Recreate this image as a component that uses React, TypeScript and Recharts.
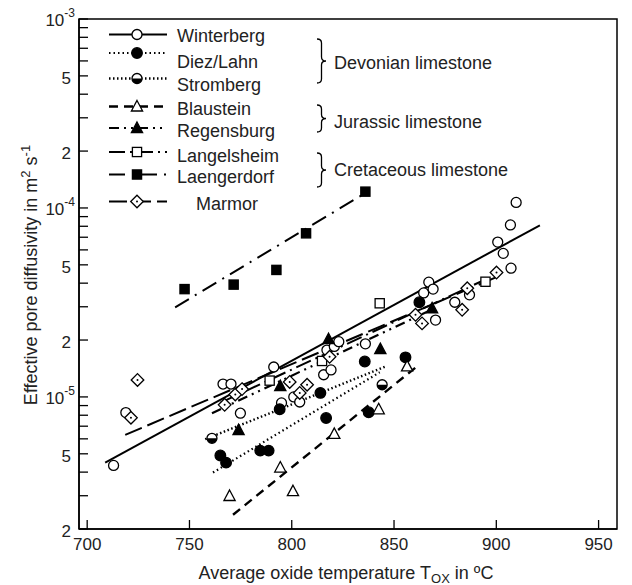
import React from "react";
import { ComposedChart, Line, Scatter, XAxis, YAxis } from "recharts";

// plot frame (px)
const LEFT = 79;
const RIGHT = 617;
const TOP = 19;
const BOTTOM = 529;
const FONT = "'Liberation Sans', Arial, sans-serif";

// measured points [T in °C, D in m2/s]
const winterberg = [
  [712.9, 4.34e-6], [718.9, 8.26e-6], [766.4, 1.17e-5], [770.3, 1.17e-5], [774.9, 8.2e-6],
  [791.2, 1.44e-5], [795.0, 9.3e-6], [801, 1.0e-5], [803.9, 9.4e-6], [815.6, 1.31e-5],
  [817.2, 1.77e-5], [819.2, 1.39e-5], [820.8, 1.85e-5], [823, 1.96e-5], [836, 1.91e-5],
  [864.5, 3.55e-5], [867, 4.05e-5], [869.1, 3.72e-5], [870.3, 2.55e-5], [879.7, 3.17e-5],
  [886.9, 3.47e-5], [900.7, 6.6e-5], [903.4, 5.75e-5], [906.9, 8.13e-5], [907.2, 4.8e-5],
  [909.7, 1.07e-4],
];
const diezLahn = [
  [765.1, 4.9e-6], [767.9, 4.49e-6], [784.6, 5.2e-6], [788.7, 5.2e-6], [794.1, 8.6e-6],
  [814, 1.05e-5], [816.8, 7.74e-6], [835.7, 1.54e-5], [837.6, 8.3e-6], [855.6, 1.62e-5],
  [862.4, 3.17e-5],
];
const stromberg = [[761, 6.04e-6], [844.2, 1.16e-5]];
const blaustein = [
  [769.6, 2.99e-6], [794.4, 4.23e-6], [800.6, 3.17e-6], [820.8, 6.37e-6], [842.5, 8.6e-6],
  [856.4, 1.45e-5],
];
const regensburg = [[774, 6.68e-6], [794.4, 1.14e-5], [818, 2.02e-5], [843.3, 1.79e-5], [868.6, 2.94e-5]];
const langelsheim = [[789.2, 1.22e-5], [814.8, 1.55e-5], [843, 3.13e-5], [894.7, 4.07e-5]];
const laengerdorf = [[747.6, 3.72e-5], [771.6, 3.93e-5], [792.5, 4.7e-5], [807, 7.34e-5], [836, 1.22e-4]];
const marmor = [
  [721.4, 7.76e-6], [724.6, 1.23e-5], [767.2, 9.08e-6], [772.4, 1.03e-5], [775.7, 1.1e-5],
  [799.0, 1.2e-5], [803.9, 1.05e-5], [807.5, 1.16e-5], [818.5, 1.63e-5], [860.5, 2.72e-5],
  [863.7, 2.45e-5], [883.3, 2.89e-5], [885.8, 3.76e-5], [900.1, 4.55e-5],
];

// regression lines, start and end point
const winterbergFit = [[708.8, 4.49e-6], [921.3, 8.1e-5]];
const diezFit = [[761.5, 3.98e-6], [843, 1.35e-5]];
const strombergFit = [[757.7, 5.97e-6], [846, 1.45e-5]];
const blausteinFit = [[771.3, 2.38e-6], [861.2, 1.45e-5]];
const regensburgFit = [[761, 8.2e-6], [868.6, 2.9e-5]];
const langelsheimFit = [[765, 9.3e-6], [895, 4.2e-5]];
const laengerdorfFit = [[743, 2.98e-5], [836, 1.2e-4]];
const marmorFit = [[718.6, 6.3e-6], [900, 4.3e-5]];

const xTicks = [700, 750, 800, 850, 900, 950];
const yTicks = [
  2e-6, 3e-6, 4e-6, 5e-6, 6e-6, 7e-6, 8e-6, 9e-6,
  1e-5, 2e-5, 3e-5, 4e-5, 5e-5, 6e-5, 7e-5, 8e-5, 9e-5,
  1e-4, 2e-4, 3e-4, 4e-4, 5e-4, 6e-4, 7e-4, 8e-4, 9e-4, 1e-3,
];

const toXY = (arr: number[][]) => arr.map(([x, y]) => ({ x, y }));

type Mark = "circle" | "dot" | "half" | "tri" | "triFill" | "sq" | "sqFill" | "diamond";

function Marker({ kind, cx, cy }: { kind: Mark; cx: number; cy: number }) {
  const sw = 1.3;
  switch (kind) {
    case "circle":
      return <circle cx={cx} cy={cy} r={5} fill="#fff" stroke="#000" strokeWidth={sw} />;
    case "dot":
      return <circle cx={cx} cy={cy} r={5.3} fill="#000" stroke="#000" strokeWidth={sw} />;
    case "half":
      return (
        <g>
          <circle cx={cx} cy={cy} r={5} fill="#fff" stroke="#000" strokeWidth={sw} />
          <path d={`M${cx - 5} ${cy} A5 5 0 0 0 ${cx + 5} ${cy} Z`} fill="#000" />
        </g>
      );
    case "tri":
    case "triFill":
      return (
        <path
          d={`M${cx} ${cy - 6} L${cx + 5.6} ${cy + 4.5} L${cx - 5.6} ${cy + 4.5} Z`}
          fill={kind === "tri" ? "#fff" : "#000"}
          stroke="#000"
          strokeWidth={sw}
        />
      );
    case "sq":
    case "sqFill":
      return (
        <rect
          x={cx - 4.6}
          y={cy - 4.6}
          width={9.2}
          height={9.2}
          fill={kind === "sq" ? "#fff" : "#000"}
          stroke="#000"
          strokeWidth={sw}
        />
      );
    default:
      return (
        <g>
          <path
            d={`M${cx} ${cy - 6.3} L${cx + 6.3} ${cy} L${cx} ${cy + 6.3} L${cx - 6.3} ${cy} Z`}
            fill="#fff"
            stroke="#000"
            strokeWidth={sw}
          />
          <circle cx={cx} cy={cy} r={1} fill="#000" />
        </g>
      );
  }
}

const series: { name: string; pts: number[][]; fit: number[][]; mark: Mark; dash?: string; width: number }[] = [
  { name: "Winterberg", pts: winterberg, fit: winterbergFit, mark: "circle", width: 2 },
  { name: "Diez/Lahn", pts: diezLahn, fit: diezFit, mark: "dot", dash: "1.5 3", width: 2.2 },
  { name: "Stromberg", pts: stromberg, fit: strombergFit, mark: "half", dash: "1.5 2.5", width: 2.4 },
  { name: "Blaustein", pts: blaustein, fit: blausteinFit, mark: "tri", dash: "9 6", width: 2.4 },
  { name: "Regensburg", pts: regensburg, fit: regensburgFit, mark: "triFill", dash: "10 5 2 5 2 5", width: 2.2 },
  { name: "Langelsheim", pts: langelsheim, fit: langelsheimFit, mark: "sq", dash: "16 5 2 5", width: 2 },
  { name: "Laengerdorf", pts: laengerdorf, fit: laengerdorfFit, mark: "sqFill", dash: "16 7 2 7", width: 2 },
  { name: "Marmor", pts: marmor, fit: marmorFit, mark: "diamond", dash: "18 6", width: 2 },
];

const YTick = (props: any) => {
  const { y, payload } = props;
  const v: number = payload.value;
  const exp = Math.floor(Math.log10(v) + 1e-9);
  const mant = Math.round(v / Math.pow(10, exp));
  let label: React.ReactNode = null;
  if (mant === 1) {
    label = (
      <text x={LEFT - 4} y={y + 7} textAnchor="end" fontSize={17} fontFamily={FONT} fill="#222">
        10
        <tspan fontSize={12} dy={-9}>{exp}</tspan>
      </text>
    );
  } else if (mant === 2 || mant === 5) {
    label = (
      <text x={LEFT - 8} y={y + 8} textAnchor="end" fontSize={17} fontFamily={FONT} fill="#222">
        {mant}
      </text>
    );
  }
  return (
    <g>
      <line x1={LEFT} x2={LEFT + 9} y1={y} y2={y} stroke="#000" strokeWidth={1.3} />
      {label}
    </g>
  );
};

const XTick = (props: any) => {
  const { x, payload } = props;
  return (
    <g>
      <line x1={x} x2={x} y1={BOTTOM} y2={BOTTOM - 9} stroke="#000" strokeWidth={1.3} />
      <text x={x} y={BOTTOM + 21} textAnchor="middle" fontSize={17} fontFamily={FONT} fill="#222">
        {payload.value}
      </text>
    </g>
  );
};

const legendSym = [34.5, 53, 78.5, 106.5, 128, 152, 174.5, 201.5];
const legendTxt = [35, 61.5, 84, 108, 130, 155, 176.5, 203];

function brace(x: number, y0: number, y1: number) {
  const w = 9;
  const ym = (y0 + y1) / 2;
  const r = 4;
  const xm = x + w / 2;
  return `M${x} ${y0} Q${xm} ${y0} ${xm} ${y0 + r} L${xm} ${ym - r} Q${xm} ${ym} ${x + w} ${ym} Q${xm} ${ym} ${xm} ${ym + r} L${xm} ${y1 - r} Q${xm} ${y1} ${x} ${y1}`;
}

export default function App() {
  return (
    <div style={{ position: "absolute", left: 0, top: 0, width: 632, height: 585, background: "#fff" }}>
      <ComposedChart width={632} height={585} margin={{ top: TOP, right: 632 - RIGHT, bottom: 0, left: 0 }}>
        <XAxis
          type="number"
          dataKey="x"
          domain={[696, 959]}
          ticks={xTicks}
          interval={0}
          allowDataOverflow
          height={585 - BOTTOM}
          axisLine={{ stroke: "#000", strokeWidth: 1.5 }}
          tickLine={false}
          tick={<XTick />}
        />
        <YAxis
          type="number"
          dataKey="y"
          scale="log"
          domain={[2e-6, 1e-3]}
          ticks={yTicks}
          interval={0}
          allowDataOverflow
          width={LEFT}
          axisLine={{ stroke: "#000", strokeWidth: 1.5 }}
          tickLine={false}
          tick={<YTick />}
        />
        {series.map((s) => (
          <Line
            key={s.name + "-fit"}
            data={toXY(s.fit)}
            dataKey="y"
            type="linear"
            stroke="#000"
            strokeWidth={s.width}
            strokeDasharray={s.dash}
            dot={false}
            activeDot={false}
            isAnimationActive={false}
          />
        ))}
        {series.map((s) => (
          <Scatter
            key={s.name}
            name={s.name}
            data={toXY(s.pts)}
            dataKey="y"
            isAnimationActive={false}
            shape={(p: any) => <Marker kind={s.mark} cx={p.cx} cy={p.cy} />}
          />
        ))}
      </ComposedChart>
      <svg
        width={632}
        height={585}
        style={{ position: "absolute", left: 0, top: 0, pointerEvents: "none" }}
        fontFamily={FONT}
      >
        <rect x={LEFT} y={TOP} width={RIGHT - LEFT} height={BOTTOM - TOP} fill="none" stroke="#000" strokeWidth={1.5} />
        {series.map((s, i) => (
          <g key={s.name}>
            <line
              x1={109}
              x2={167}
              y1={legendSym[i]}
              y2={legendSym[i]}
              stroke="#000"
              strokeWidth={s.width}
              strokeDasharray={s.dash}
            />
            <Marker kind={s.mark} cx={137} cy={legendSym[i]} />
            <text
              x={s.name === "Marmor" ? 196 : 177}
              y={legendTxt[i] + 6.5}
              fontSize={18}
              fill="#222"
            >
              {s.name}
            </text>
          </g>
        ))}
        <path d={brace(317, 39, 83)} fill="none" stroke="#000" strokeWidth={1.3} />
        <text x={334} y={69} fontSize={18} fill="#222">Devonian limestone</text>
        <path d={brace(317, 105, 132)} fill="none" stroke="#000" strokeWidth={1.3} />
        <text x={334} y={128} fontSize={18} fill="#222">Jurassic limestone</text>
        <path d={brace(317, 153, 187)} fill="none" stroke="#000" strokeWidth={1.3} />
        <text x={334} y={176} fontSize={18} fill="#222">Cretaceous limestone</text>
        <text x={346} y={579} textAnchor="middle" fontSize={18} fill="#222">
          Average oxide temperature T<tspan fontSize={13} dy={4}>OX</tspan>
          <tspan dy={-4}> in ºC</tspan>
        </text>
        <text
          transform="translate(37 275) rotate(-90)"
          textAnchor="middle"
          fontSize={18}
          fill="#222"
        >
          Effective pore diffusivity in m<tspan fontSize={13} dy={-7}>2</tspan>
          <tspan dy={7}> s</tspan>
          <tspan fontSize={13} dy={-7}>-1</tspan>
        </text>
      </svg>
    </div>
  );
}
